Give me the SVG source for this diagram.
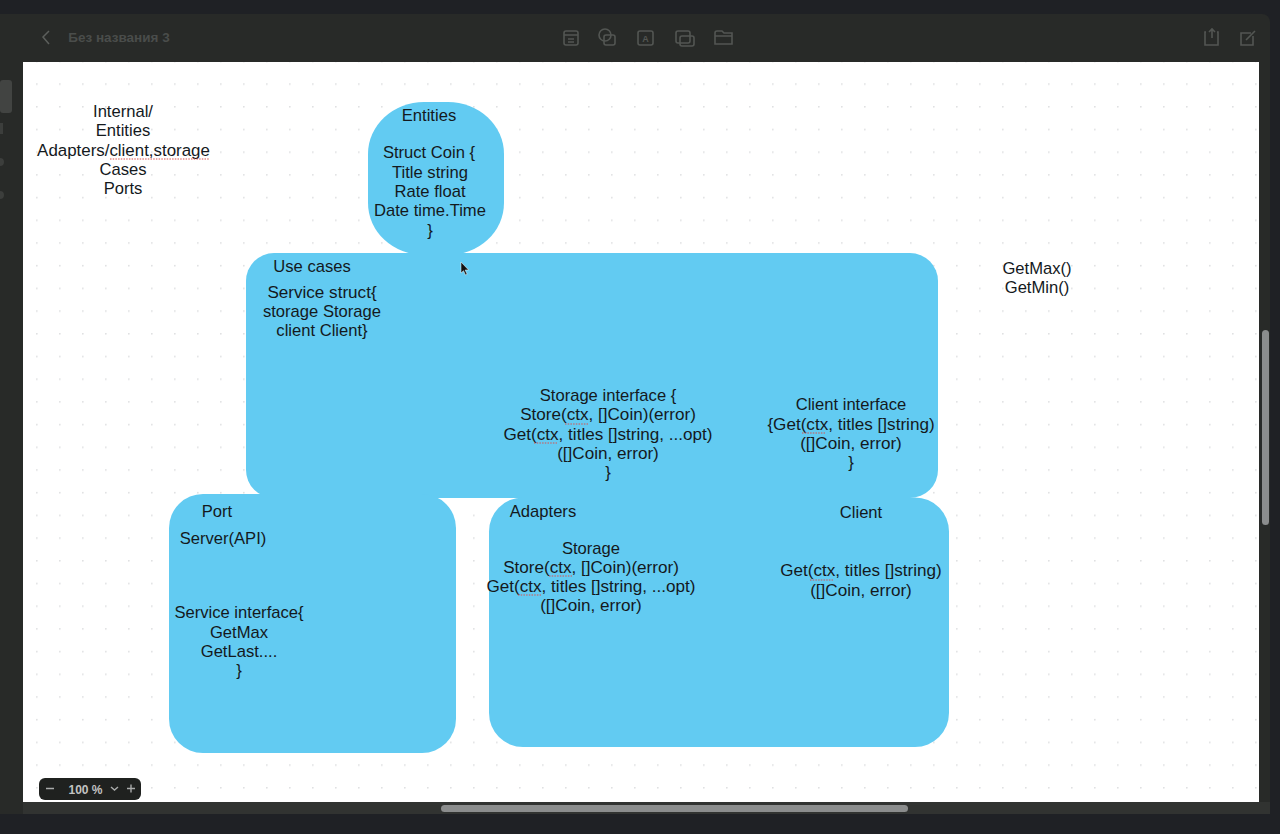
<svg xmlns="http://www.w3.org/2000/svg" width="1280" height="834" viewBox="0 0 1280 834">
<defs>
<style>
text{font-family:"Liberation Sans",Arial,sans-serif;font-size:16.6px;fill:#14191d;text-anchor:middle}
text.c{font-size:17.1px}
.node{fill:#62cbf2}
.sq{fill:none;stroke:#d9534f;stroke-width:1.2;stroke-dasharray:1.5 1.2}
.ic{fill:none;stroke:#535653;stroke-width:1.6}
.ic2{fill:none;stroke:#5c5f5c;stroke-width:1.5}
</style>
<pattern id="dots" x="36" y="83.3" width="23" height="22.7" patternUnits="userSpaceOnUse">
<circle cx="0.8" cy="0.8" r="0.9" fill="#dfe0e1"/>
</pattern>
</defs>
<rect id="bg" width="1280" height="834" fill="#1f2125"/>
<g id="window">
<path d="M0 14H1262a8 8 0 0 1 8 8V814H0Z" fill="#282a28"/>
<rect x="0" y="80" width="12" height="33" rx="3" fill="#424442"/>
<rect x="0" y="123" width="3" height="11" fill="#3c3e3c"/>
<circle cx="0" cy="162" r="4" fill="#3c3e3c"/>
<circle cx="0" cy="195" r="4" fill="#3c3e3c"/>
<rect x="23" y="62" width="1236" height="740" fill="#fff"/>
<rect x="23" y="62" width="1236" height="740" fill="url(#dots)"/>
<rect x="23" y="802" width="1247" height="12" fill="#313331"/>
<rect x="0" y="814" width="1280" height="20" fill="#1f2125"/>
<rect x="441" y="805" width="467" height="7" rx="3.5" fill="#8b8d8d"/>
<rect x="1262" y="330" width="7" height="195" rx="3.5" fill="#8b8d8d"/>
</g>
<g id="toolbar">
<path class="ic2" d="M49 31l-6 6 6 7"/>
<text x="119" y="42" style="font-size:13.5px;font-weight:700;fill:#4a4d4b">Без названия 3</text>
<g class="ic">
<rect x="564" y="31" width="14" height="14" rx="2"/><path d="M564 35h14M568 39h6M568 42h6"/>
<circle cx="605" cy="35" r="6"/><rect x="604" y="35" width="11" height="10" rx="2"/>
<rect x="638" y="31" width="15" height="14" rx="2"/>
<rect x="676" y="31" width="14" height="12" rx="2"/><rect x="680" y="36" width="14" height="10" rx="2"/>
<path d="M715 33a2 2 0 0 1 2-2h5l2 2h8v11h-17ZM715 36h17"/>
<path d="M1206 32h-1v13h13v-13h-1M1212 38v-9M1209 32l3-3 3 3"/>
<path d="M1251 33h-10v12h12v-9M1246 40l9-9"/>
</g>
<text x="645.500" y="41.500" style="font-size:9px;font-weight:700;fill:#535653">A</text>
</g>
<g id="legend">
<text x="123" y="117">Internal/</text>
<text x="123" y="136">Entities</text>
<text x="123.500" y="155.500" style="font-size:16.9px">Adapters/client,storage</text>
<path class="sq" d="M110 159H209"/>
<text x="123" y="174.500">Cases</text>
<text x="123" y="194">Ports</text>
</g>
<g id="notes">
<text x="1037" y="273.500">GetMax()</text>
<text x="1037" y="293">GetMin()</text>
</g>
<g id="entities">
<rect class="node" x="368" y="102" width="136" height="153" rx="56" ry="52"/>
</g>
<g id="use-cases">
<rect class="node" x="246" y="253" width="692" height="245" rx="28"/>
</g>
<g id="port">
<rect class="node" x="169" y="494" width="287" height="259" rx="34"/>
</g>
<g id="adapters">
<rect class="node" x="489" y="497.500" width="460" height="249.500" rx="34"/>
</g>
<g id="entities-text">
<text x="429" y="121">Entities</text>
<text x="429" y="158">Struct Coin {</text>
<text x="430" y="177.500">Title string</text>
<text x="430" y="197">Rate float</text>
<text x="430" y="216">Date time.Time</text>
<text x="430" y="235.500">}</text>
</g>
<g id="use-cases-text">
<text x="312" y="272">Use cases</text>
<text class="c" x="322" y="297.500">Service struct{</text>
<text x="322" y="317">storage Storage</text>
<text x="322" y="336">client Client}</text>
<text x="608" y="401">Storage interface {</text>
<text class="c" x="608" y="420">Store(ctx, []Coin)(error)</text>
<text class="c" x="608" y="439.500">Get(ctx, titles []string, ...opt)</text>
<text class="c" x="608" y="459">([]Coin, error)</text>
<text x="608" y="478">}</text>
<text x="851" y="410">Client interface</text>
<text class="c" x="851" y="429.500">{Get(ctx, titles []string)</text>
<text class="c" x="851" y="449">([]Coin, error)</text>
<text x="851" y="468">}</text>
<path class="sq" d="M565 424H588M534 443H557M802 433H825"/>
</g>
<g id="port-text">
<text x="217" y="517">Port</text>
<text x="223" y="544">Server(API)</text>
<text x="239" y="618">Service interface{</text>
<text x="239" y="637.500">GetMax</text>
<text x="239" y="657">GetLast....</text>
<text x="239" y="676">}</text>
</g>
<g id="adapters-text">
<text x="543" y="517">Adapters</text>
<text x="591" y="553.500">Storage</text>
<text class="c" x="591" y="572.500">Store(ctx, []Coin)(error)</text>
<text class="c" x="591" y="592">Get(ctx, titles []string, ...opt)</text>
<text class="c" x="591" y="611">([]Coin, error)</text>
<path class="sq" d="M549 576H572M518 595H541"/>
</g>
<g id="client-text">
<text x="861" y="518">Client</text>
<text class="c" x="861" y="576">Get(ctx, titles []string)</text>
<text class="c" x="861" y="595.500">([]Coin, error)</text>
<path class="sq" d="M810 580H833"/>
</g>
<g id="cursor">
<path d="M461 262v11l2.500-2.300 2 4.300 1.600-.8-2-4.200h3.500Z" fill="#111" stroke="#fff" stroke-width=".5"/>
</g>
<g id="zoom-control">
<rect x="39" y="778" width="102" height="22" rx="6" fill="#1f211f"/>
<path d="M46 788.500h8M127 788.500h8M131 784.500v8M111 787l3.500 3 3.500-3" fill="none" stroke="#a9abaa" stroke-width="1.400"/>
<text x="85.500" y="793.500" style="font-size:12px;font-weight:700;fill:#c2c3c2">100 %</text>
</g>
</svg>
